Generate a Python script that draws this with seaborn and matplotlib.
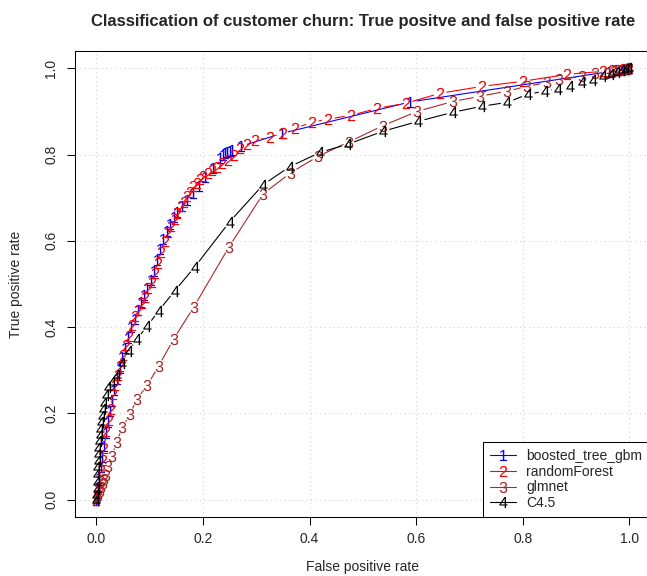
import numpy as np
import matplotlib
matplotlib.use("Agg")
import matplotlib.pyplot as plt
from matplotlib.collections import LineCollection
from matplotlib.lines import Line2D
import seaborn as sns

# ROC points (false positive rate, true positive rate)
fpr_gbm = [0, 0.001, 0.003, 0.005, 0.008, 0.011, 0.014, 0.018, 0.022, 0.026, 0.030, 0.034,
           0.039, 0.044, 0.049, 0.054, 0.060, 0.066, 0.072, 0.078, 0.084, 0.090, 0.096, 0.102,
           0.108, 0.114, 0.120, 0.126, 0.132, 0.138, 0.145, 0.152, 0.160, 0.170, 0.181, 0.192,
           0.204, 0.218, 0.232, 0.238, 0.242, 0.246, 0.250, 0.255, 0.271, 0.348, 0.589, 0.962,
           0.975, 0.986, 0.994, 1.0]
tpr_gbm = [0, 0.01, 0.03, 0.05, 0.075, 0.10, 0.125, 0.155, 0.18, 0.205, 0.23, 0.255,
           0.28, 0.305, 0.33, 0.352, 0.375, 0.40, 0.42, 0.44, 0.458, 0.475, 0.49, 0.51,
           0.53, 0.555, 0.58, 0.605, 0.622, 0.64, 0.655, 0.667, 0.68, 0.695, 0.71, 0.727,
           0.747, 0.77, 0.793, 0.80, 0.803, 0.806, 0.808, 0.81, 0.819, 0.849, 0.922, 0.992,
           0.995, 0.997, 0.999, 1.0]

fpr_rf = [0, 0.002, 0.004, 0.006, 0.009, 0.012, 0.015, 0.019, 0.023, 0.027, 0.031, 0.035,
          0.040, 0.045, 0.050, 0.055, 0.061, 0.067, 0.073, 0.079, 0.085, 0.091, 0.097, 0.104,
          0.110, 0.116, 0.122, 0.128, 0.134, 0.140, 0.147, 0.152, 0.158, 0.164, 0.170, 0.176,
          0.182, 0.188, 0.194, 0.201, 0.209, 0.217, 0.226, 0.236, 0.247, 0.258, 0.269, 0.283,
          0.297, 0.326, 0.351, 0.373, 0.405, 0.435, 0.478, 0.527, 0.581, 0.645, 0.724, 0.801,
          0.884, 0.951, 0.968, 0.979, 0.988, 0.995, 1.0]
tpr_rf = [0, 0.012, 0.025, 0.045, 0.07, 0.092, 0.12, 0.16, 0.185, 0.21, 0.245, 0.265,
          0.29, 0.31, 0.335, 0.358, 0.38, 0.405, 0.425, 0.44, 0.455, 0.47, 0.49, 0.505,
          0.525, 0.548, 0.575, 0.60, 0.62, 0.635, 0.65, 0.665, 0.68, 0.69, 0.703, 0.713,
          0.727, 0.735, 0.743, 0.75, 0.758, 0.765, 0.772, 0.78, 0.787, 0.80, 0.815, 0.824,
          0.833, 0.840, 0.85, 0.861, 0.875, 0.882, 0.891, 0.907, 0.919, 0.942, 0.958, 0.970,
          0.986, 0.993, 0.995, 0.997, 0.998, 0.999, 1.0]

fpr_glm = [0, 0.002, 0.004, 0.006, 0.009, 0.012, 0.015, 0.019, 0.021, 0.029, 0.038, 0.049,
           0.063, 0.076, 0.096, 0.117, 0.145, 0.183, 0.249, 0.313, 0.365, 0.416, 0.475, 0.538,
           0.602, 0.669, 0.720, 0.771, 0.808, 0.845, 0.868, 0.912, 0.935, 0.958, 0.972, 0.984,
           0.993, 1.0]
tpr_glm = [0, 0.006, 0.012, 0.02, 0.03, 0.038, 0.047, 0.057, 0.078, 0.101, 0.133, 0.168,
           0.198, 0.233, 0.266, 0.310, 0.372, 0.447, 0.586, 0.709, 0.758, 0.796, 0.83, 0.867,
           0.900, 0.923, 0.935, 0.947, 0.958, 0.967, 0.974, 0.981, 0.988, 0.99, 0.994, 0.996,
           0.998, 1.0]

fpr_c45 = [0, 0.0, 0.001, 0.001, 0.002, 0.002, 0.003, 0.003, 0.004, 0.005, 0.006, 0.007,
           0.008, 0.010, 0.012, 0.015, 0.018, 0.021, 0.029, 0.038, 0.049, 0.061, 0.076, 0.096,
           0.117, 0.147, 0.185, 0.250, 0.313, 0.363, 0.420, 0.472, 0.538, 0.604, 0.669, 0.724,
           0.771, 0.810, 0.842, 0.867, 0.889, 0.911, 0.932, 0.951, 0.965, 0.977, 0.987, 0.994,
           1.0]
tpr_c45 = [0, 0.01, 0.025, 0.04, 0.06, 0.075, 0.09, 0.105, 0.12, 0.135, 0.15, 0.165,
           0.18, 0.195, 0.21, 0.225, 0.242, 0.261, 0.272, 0.29, 0.317, 0.345, 0.372, 0.403,
           0.438, 0.484, 0.540, 0.644, 0.730, 0.772, 0.805, 0.824, 0.854, 0.877, 0.898, 0.912,
           0.921, 0.940, 0.947, 0.953, 0.958, 0.967, 0.972, 0.981, 0.986, 0.991, 0.995, 0.998,
           1.0]

model_names = ["boosted_tree_gbm", "randomForest", "glmnet", "C4.5"]
digits = ["1", "2", "3", "4"]
colors = ["#0000FF", "#FF0000", "#A52A2A", "#000000"]
curves = [(fpr_gbm, tpr_gbm), (fpr_rf, tpr_rf), (fpr_glm, tpr_glm), (fpr_c45, tpr_c45)]

sns.set_style("white")
plt.rcParams["font.family"] = ["Liberation Sans", "DejaVu Sans"]
plt.rcParams["mathtext.fontset"] = "custom"
plt.rcParams["mathtext.rm"] = "Liberation Sans"
plt.rcParams["mathtext.it"] = "Liberation Sans"
plt.rcParams["font.size"] = 10

fig = plt.figure(figsize=(6.47, 5.76), dpi=100)
ax = fig.add_axes([75 / 647, 59 / 576, 575.6 / 647, 466 / 576])
ax.set_xlim(-0.04, 1.04)
ax.set_ylim(-0.04, 1.04)

ticks = [0.0, 0.2, 0.4, 0.6, 0.8, 1.0]
ax.set_xticks(ticks)
ax.set_yticks(ticks)
ax.set_xticklabels([f"{t:.1f}" for t in ticks])
ax.set_yticklabels([f"{t:.1f}" for t in ticks], rotation=90, va="center")
ax.tick_params(direction="out", length=6, width=0.75, color="black", labelsize=10,
               left=True, bottom=True)
ax.tick_params(axis="x", pad=5)
ax.tick_params(axis="y", pad=6)
for sp in ax.spines.values():
    sp.set_color("black")
    sp.set_linewidth(0.75)
ax.grid(True, color="lightgray", linestyle=(0, (1, 3)), linewidth=0.8)
ax.set_axisbelow(True)


def gapped_segments(x, y, gap=6.5):
    # R's type="b": lines stop short of each plotted character
    pts = ax.transData.transform(np.column_stack([x, y]))
    inv = ax.transData.inverted()
    segs = []
    for p0, p1 in zip(pts[:-1], pts[1:]):
        d = p1 - p0
        length = np.hypot(d[0], d[1])
        if length > 2 * gap:
            u = d / length
            segs.append(inv.transform(np.array([p0 + u * gap, p1 - u * gap])))
    return segs


for i, ((fx, ty), dg, col) in enumerate(zip(curves, digits, colors)):
    lc = LineCollection(gapped_segments(fx, ty), colors=col, linewidths=0.8, zorder=3 + 2 * i)
    ax.add_collection(lc)
    sns.scatterplot(x=fx, y=ty, marker=f"${dg}$", s=66, color=col, linewidth=0,
                    ax=ax, legend=False, zorder=4 + 2 * i)

ax.set_xlim(-0.04, 1.04)
ax.set_ylim(-0.04, 1.04)

ax.set_title("Classification of customer churn: True positve and false positive rate",
             fontsize=12, fontweight="bold", pad=18)
ax.set_xlabel("False positive rate", fontsize=10)
ax.set_ylabel("True positive rate", fontsize=10)
ax.xaxis.set_label_coords(0.5, -0.093)
ax.yaxis.set_label_coords(-0.09, 0.5)

handles = [Line2D([0], [0], color=c, lw=0.8, marker=f"${d}$", markersize=8,
                  markeredgewidth=0)
           for c, d in zip(colors, digits)]
leg = ax.legend(handles, model_names, loc="lower left", bbox_to_anchor=(0.709, 0.0),
                borderaxespad=0, frameon=True, fancybox=False, framealpha=1,
                edgecolor="black", fontsize=10, handlelength=1.9, handletextpad=0.7,
                borderpad=0.5, labelspacing=0.12, numpoints=1)
leg.get_frame().set_linewidth(0.75)
leg.set_zorder(20)

fig.savefig("out.png", dpi=100)
